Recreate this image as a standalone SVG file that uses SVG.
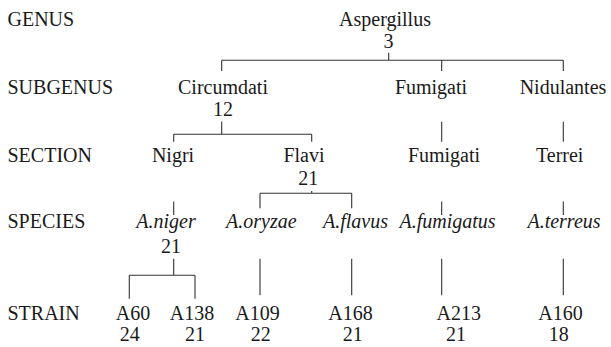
<svg xmlns="http://www.w3.org/2000/svg" width="611" height="347" viewBox="0 0 611 347">
  <style>
    .t { font-size: 20px; fill: #1a1a1a; }
    .rank { text-anchor: start; }
    .n { text-anchor: middle; }
    .sp { font-style: italic; }
    .link { stroke: #333; stroke-width: 1.1; fill: none; }
  </style>
  <rect width="611" height="347" fill="#ffffff"/>

  <g font-family="'Liberation Serif', 'DejaVu Serif', serif" class="t">
    <!-- taxonomic rank labels -->
    <g id="ranks">
      <text class="rank" x="7.5" y="26">GENUS</text>
      <text class="rank" x="7.5" y="94">SUBGENUS</text>
      <text class="rank" x="7.5" y="162">SECTION</text>
      <text class="rank" x="7.5" y="228">SPECIES</text>
      <text class="rank" x="7.5" y="319.5">STRAIN</text>
    </g>

    <!-- genus -->
    <g id="aspergillus">
      <text class="n" x="385" y="26">Aspergillus</text>
      <text class="n" x="388.5" y="48">3</text>
    </g>

    <!-- subgenera -->
    <g id="circumdati">
      <text class="n" x="223" y="94">Circumdati</text>
      <text class="n" x="223" y="115.5">12</text>
    </g>
    <g id="fumigati-subgenus">
      <text class="n" x="431" y="94">Fumigati</text>
    </g>
    <g id="nidulantes">
      <text class="n" x="563" y="94">Nidulantes</text>
    </g>

    <!-- sections -->
    <g id="nigri">
      <text class="n" x="173" y="162">Nigri</text>
    </g>
    <g id="flavi">
      <text class="n" x="304" y="162">Flavi</text>
      <text class="n" x="308.3" y="185">21</text>
    </g>
    <g id="fumigati-section">
      <text class="n" x="444" y="162">Fumigati</text>
    </g>
    <g id="terrei">
      <text class="n" x="559.7" y="162">Terrei</text>
    </g>

    <!-- species -->
    <g id="a-niger">
      <text class="n sp" x="166" y="228">A.niger</text>
      <text class="n" x="171" y="253">21</text>
    </g>
    <g id="a-oryzae">
      <text class="n sp" x="261.3" y="228">A.oryzae</text>
    </g>
    <g id="a-flavus">
      <text class="n sp" x="355.5" y="228">A.flavus</text>
    </g>
    <g id="a-fumigatus">
      <text class="n sp" x="447.5" y="228">A.fumigatus</text>
    </g>
    <g id="a-terreus">
      <text class="n sp" x="564" y="228">A.terreus</text>
    </g>

    <!-- strains -->
    <g id="a60">
      <text class="n" x="133" y="319.5">A60</text>
      <text class="n" x="129.7" y="340.5">24</text>
    </g>
    <g id="a138">
      <text class="n" x="192" y="319.5">A138</text>
      <text class="n" x="195" y="340.5">21</text>
    </g>
    <g id="a109">
      <text class="n" x="257.5" y="319.5">A109</text>
      <text class="n" x="260.8" y="340.5">22</text>
    </g>
    <g id="a168">
      <text class="n" x="350.5" y="319.5">A168</text>
      <text class="n" x="352.8" y="340.5">21</text>
    </g>
    <g id="a213">
      <text class="n" x="458.7" y="319.5">A213</text>
      <text class="n" x="456" y="340.5">21</text>
    </g>
    <g id="a160">
      <text class="n" x="560.5" y="319.5">A160</text>
      <text class="n" x="558.8" y="340.5">18</text>
    </g>
  </g>

  <!-- tree connectors -->
  <g id="connectors" class="link">
    <!-- genus to subgenera -->
    <path d="M388.7 52.7V60.3M221.7 60.3H563.3M221.7 60.3V71M441.7 60.3V71M563.3 60.3V71"/>
    <!-- subgenera to sections -->
    <path d="M221.7 121.5V134.3M173.7 134.3H311.7M173.7 134.3V141.7M311.7 134.3V141.7"/>
    <path d="M441.7 121.7V141.7M563.3 121.7V141.7"/>
    <!-- sections to species -->
    <path d="M311.7 191V193.3M260 193.3H351.7M260 193.3V208.3M351.7 193.3V208.3"/>
    <path d="M173.7 201.5V215M441.7 201.5V215M563.3 201.5V215"/>
    <!-- species to strains -->
    <path d="M173.7 258.7V275.3M129.3 275.3H195M129.3 275.3V298.7M195 275.3V298.7"/>
    <path d="M260 258.7V295.3M351.7 258.7V295.3M441.7 258.7V295.3M563.3 258.7V295.3"/>
  </g>
</svg>
